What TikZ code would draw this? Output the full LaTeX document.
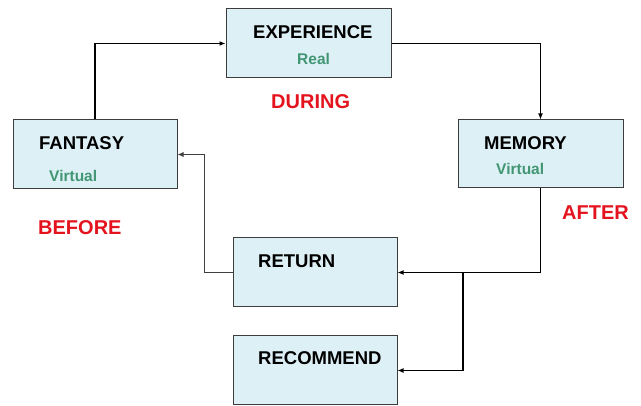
\documentclass[tikz,border=0pt]{standalone}
\usepackage{fontspec}
\setmainfont{Liberation Sans}
\usetikzlibrary{arrows.meta}
\definecolor{boxfill}{RGB}{221,240,246}
\definecolor{boxline}{RGB}{60,60,60}
\definecolor{vgreen}{RGB}{66,150,115}
\definecolor{phred}{RGB}{228,20,30}
\begin{document}
\begin{tikzpicture}[x=1pt,y=-1pt,
  box/.style={draw=boxline,line width=1pt,fill=boxfill,inner sep=0pt},
  title/.style={font=\fontsize{18.5}{20}\selectfont\bfseries,anchor=west,inner sep=0pt},
  sub/.style={font=\fontsize{15.5}{18}\selectfont\bfseries,text=vgreen,anchor=west,inner sep=0pt},
  phase/.style={font=\fontsize{20}{22}\selectfont\bfseries,text=phred,anchor=west,inner sep=0pt},
  conn/.style={line width=1.7pt,-{Latex[length=6pt,width=5pt]}},
  thin/.style={line width=0.9pt,draw=black!75,-{Latex[length=6pt,width=5pt]}}]
\useasboundingbox (0,0) rectangle (641,406);
\node[box,minimum width=165pt,minimum height=69pt] (exp) at (308.5,43.5) {};
\node[box,minimum width=164pt,minimum height=69pt] (fan) at (95,154.5) {};
\node[box,minimum width=165pt,minimum height=68pt] (mem) at (540.5,154) {};
\node[box,minimum width=164pt,minimum height=69pt] (ret) at (315,272.5) {};
\node[box,minimum width=164pt,minimum height=69pt] (rec) at (315,370.5) {};
\node[title] (expt) at (253,32) {EXPERIENCE};
\node[sub] (exps) at (297,59) {Real};
\node[title] (fant) at (39,143) {FANTASY};
\node[sub] (fans) at (49,176) {Virtual};
\node[title] (memt) at (484,143) {MEMORY};
\node[sub] (mems) at (496,169) {Virtual};
\node[title] (rett) at (258,261) {RETURN};
\node[title] (rect) at (258,358) {RECOMMEND};
\node[phase] (during) at (271,102) {DURING};
\node[phase] (before) at (38,228) {BEFORE};
\node[phase] (after) at (562,213) {AFTER};
\draw[conn] (fan.north) |- (exp.west);
\draw[conn] (exp.east) -| (mem.north);
\draw[conn] (mem.south) |- (ret.east);
\coordinate (junc) at (463,272.5);
\draw[conn] (junc) |- (rec.east);
\coordinate (bend) at (204,272.5);
\draw[thin] (ret.west) -- (bend) |- (fan.east);
\end{tikzpicture}
\end{document}
